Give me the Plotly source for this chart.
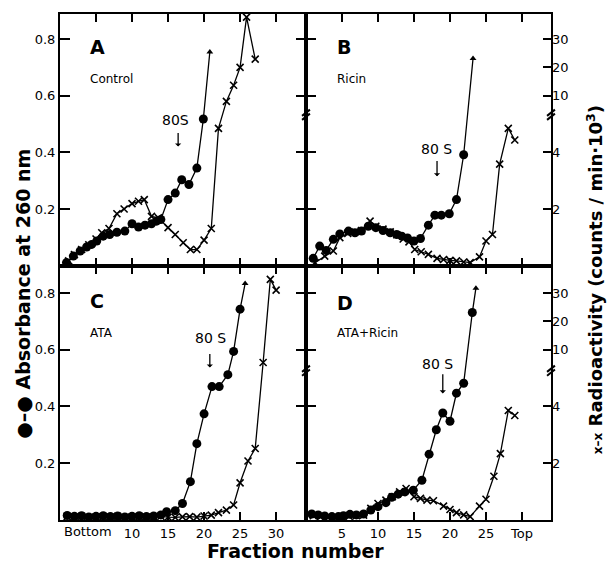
import plotly.graph_objects as go

# ---------------- data (fraction number, value) ----------------
# Absorbance at 260 nm (filled dots); last point = off-scale arrow tip
A_abs_x = [0.9, 1.85, 2.8, 3.7, 4.4, 5.1, 6.0, 6.9, 7.9, 9.0, 10.0, 10.9, 11.8, 12.7, 13.4, 14.0, 15.0, 16.0, 16.9, 17.9, 19.0, 19.9, 20.8]
A_abs_y = [0.012, 0.035, 0.053, 0.067, 0.076, 0.088, 0.105, 0.111, 0.119, 0.123, 0.149, 0.137, 0.144, 0.149, 0.158, 0.164, 0.234, 0.257, 0.304, 0.287, 0.345, 0.518, 0.754]
# Radioactivity (counts/min x 10^3) (crosses)
A_rad_x = [1.2, 2.0, 3.0, 4.0, 5.0, 5.8, 6.8, 7.9, 8.9, 10.0, 10.9, 11.7, 12.7, 13.65, 15.0, 16.0, 17.1, 18.1, 19.0, 20.0, 21.0, 22.0, 23.1, 24.1, 25.0, 25.9, 27.1]
A_rad_y = [0.18, 0.40, 0.58, 0.75, 0.95, 1.17, 1.32, 1.84, 2.01, 2.20, 2.28, 2.34, 1.75, 1.70, 1.35, 1.11, 0.82, 0.58, 0.58, 0.91, 1.32, 4.85, 8.0, 13.7, 20.0, 37.7, 22.9]

B_abs_x = [1.0, 1.9, 2.8, 3.8, 4.7, 5.9, 6.8, 7.7, 8.65, 9.7, 10.7, 11.7, 12.6, 13.3, 14.1, 15.0, 15.9, 17.0, 17.9, 18.8, 19.9, 20.9, 21.9, 23.2]
B_abs_y = [0.027, 0.07, 0.055, 0.094, 0.113, 0.123, 0.117, 0.123, 0.140, 0.135, 0.125, 0.117, 0.111, 0.105, 0.099, 0.088, 0.097, 0.144, 0.179, 0.179, 0.184, 0.234, 0.392, 0.731]
B_rad_x = [1.25, 2.6, 3.8, 4.7, 5.8, 6.8, 7.7, 8.9, 9.7, 10.7, 11.7, 12.6, 13.5, 14.3, 15.1, 16.0, 17.0, 18.2, 19.1, 20.0, 20.9, 21.9, 22.8, 24.1, 25.0, 25.9, 26.9, 28.1, 29.0]
B_rad_y = [0.12, 0.35, 0.53, 1.0, 1.15, 1.2, 1.25, 1.58, 1.4, 1.3, 1.2, 1.1, 0.95, 0.85, 0.58, 0.5, 0.41, 0.27, 0.23, 0.2, 0.18, 0.14, 0.12, 0.32, 0.88, 1.11, 3.59, 4.85, 4.44]

C_abs_x = [1, 2, 3, 4, 5, 6, 7, 8, 9, 10, 11, 12, 13, 14, 14.8, 16.0, 17.0, 18.1, 19.0, 20.0, 21.1, 22.1, 23.3, 24.1, 25.0, 25.7]
C_abs_y = [0.016, 0.013, 0.015, 0.011, 0.013, 0.015, 0.012, 0.014, 0.011, 0.013, 0.015, 0.012, 0.014, 0.018, 0.029, 0.033, 0.058, 0.135, 0.269, 0.374, 0.47, 0.47, 0.512, 0.594, 0.743, 0.833]
C_rad_x = [1, 2, 3, 4, 5, 6, 7, 8, 9, 10, 11, 12, 13, 14, 15, 16, 17, 18, 19, 20, 21, 22.0, 23.1, 24.1, 25.0, 26.1, 27.1, 28.2, 29.2, 30.0]
C_rad_y = [0.12, 0.10, 0.13, 0.09, 0.11, 0.12, 0.10, 0.13, 0.09, 0.11, 0.12, 0.10, 0.11, 0.13, 0.10, 0.09, 0.11, 0.12, 0.10, 0.14, 0.17, 0.26, 0.35, 0.53, 1.31, 2.08, 2.52, 5.5, 34.8, 31.0]

D_abs_x = [0.8, 1.7, 2.6, 3.6, 4.5, 5.2, 6.1, 7.0, 8.0, 9.0, 10.0, 11.1, 11.9, 12.8, 13.75, 14.9, 16.1, 17.1, 18.1, 19.0, 20.0, 20.9, 21.9, 23.1, 23.6]
D_abs_y = [0.021, 0.018, 0.014, 0.012, 0.012, 0.015, 0.02, 0.018, 0.021, 0.035, 0.047, 0.061, 0.08, 0.091, 0.099, 0.105, 0.14, 0.232, 0.318, 0.377, 0.348, 0.447, 0.482, 0.731, 0.817]
D_rad_x = [1, 2, 3, 4, 5, 6, 7, 8, 9.0, 10.0, 11.1, 12.0, 13.0, 13.9, 15.0, 15.9, 16.8, 17.7, 19.1, 20.0, 20.9, 21.9, 22.8, 24.1, 25.0, 26.1, 27.0, 28.1, 29.0]
D_rad_y = [0.15, 0.12, 0.10, 0.10, 0.10, 0.13, 0.15, 0.17, 0.41, 0.58, 0.70, 0.82, 0.99, 1.11, 0.82, 0.76, 0.70, 0.68, 0.49, 0.37, 0.26, 0.18, 0.12, 0.49, 0.73, 1.54, 2.34, 3.86, 3.68]

panel_letters = ["A", "B", "C", "D"]
panel_labels = ["Control", "Ricin", "ATA", "ATA+Ricin"]
abs_ticks = [0.2, 0.4, 0.6, 0.8]
abs_ticktext = ["0.2", "0.4", "0.6", "0.8"]
rad_ticks = [2, 4, 10, 20, 30]
frac_ticks = [5, 10, 15, 20, 25, 30]
frac_text_C = ["", "10", "15", "20", "25", "30"]
frac_text_D = ["5", "10", "15", "20", "25", "Top"]

# broken radioactivity scale (linear below the break, compressed above)
BREAK = 5.3
def T(v):
    return 0.1 * v if v <= BREAK else 0.5 + 0.01 * v

FONT = "DejaVu Sans"
fig = go.Figure()

def add_panel(ax, ay, ay_rad, xa, ya, xr, yr):
    n = len(xa)
    fig.add_trace(go.Scatter(
        x=xa, y=ya, xaxis=ax, yaxis=ay, mode="lines+markers",
        line=dict(color="black", width=1.3),
        marker=dict(color="black", opacity=1, size=[9] * (n - 1) + [6],
                    symbol=["circle"] * (n - 1) + ["triangle-up"],
                    line=dict(width=0)),
        showlegend=False))
    fig.add_trace(go.Scatter(
        x=xr, y=[T(v) for v in yr], xaxis=ax, yaxis=ay_rad, mode="lines+markers",
        line=dict(color="black", width=1.3),
        marker=dict(color="black", opacity=1, size=7, symbol="x-thin-open",
                    line=dict(color="black", width=1.6)),
        showlegend=False))

add_panel("x", "y", "y", A_abs_x, A_abs_y, A_rad_x, A_rad_y)
add_panel("x2", "y2", "y5", B_abs_x, B_abs_y, B_rad_x, B_rad_y)
add_panel("x3", "y3", "y3", C_abs_x, C_abs_y, C_rad_x, C_rad_y)
add_panel("x4", "y4", "y6", D_abs_x, D_abs_y, D_rad_x, D_rad_y)

XS = 0.501
YS = 0.502
TOP_R = [0, 0.888]
BOT_R = [0, 0.895]

base_ax = dict(showline=True, linecolor="black", linewidth=2, ticks="inside",
               ticklen=8, tickwidth=2, tickcolor="black", showgrid=False,
               zeroline=False, tickfont=dict(family=FONT, size=13, color="black"))

def xax(dom, anchor, rng, text=None):
    d = dict(base_ax, domain=dom, anchor=anchor, range=rng, mirror="ticks",
             tickvals=frac_ticks)
    if text is None:
        d["showticklabels"] = False
    else:
        d["ticktext"] = text
    return d

def yax(dom, anchor, rng, labels):
    d = dict(base_ax, domain=dom, anchor=anchor, range=rng, tickvals=abs_ticks,
             ticklen=10)
    if labels:
        d.update(ticktext=abs_ticktext, mirror="ticks")
    else:
        d.update(showticklabels=False, mirror=True)
    return d

def yrad(over, anchor, rng):
    return dict(base_ax, overlaying=over, anchor=anchor, side="right", range=rng,
                tickvals=[T(v) for v in rad_ticks], ticktext=[str(v) for v in rad_ticks],
                showline=False)

fig.update_layout(
    width=611, height=562, margin=dict(l=60, r=60, t=12, b=42),
    paper_bgcolor="white", plot_bgcolor="white",
    font=dict(family=FONT, color="black"),
    xaxis=xax([0, XS], "y", [0, 34.15]),
    xaxis2=xax([XS, 1], "y2", [0, 34.03]),
    xaxis3=xax([0, XS], "y3", [0, 34.15], frac_text_C),
    xaxis4=xax([XS, 1], "y4", [0, 34.03], frac_text_D),
    yaxis=yax([YS, 1], "x", TOP_R, True),
    yaxis2=yax([YS, 1], "x2", TOP_R, False),
    yaxis3=yax([0, YS], "x3", BOT_R, True),
    yaxis4=yax([0, YS], "x4", BOT_R, False),
    yaxis5=yrad("y2", "x2", TOP_R),
    yaxis6=yrad("y4", "x4", BOT_R),
)

ann = []
panels = [("x", "y", 3.9, 0.77, 3.9, 0.66, "80S", 16.1, 0.516, 16.4, 0.474, 0.421),
          ("x2", "y2", 4.0, 0.77, 4.0, 0.66, "80 S", 18.1, 0.414, 18.2, 0.375, 0.316),
          ("x3", "y3", 3.9, 0.772, 3.9, 0.66, "80 S", 20.9, 0.643, 20.8, 0.59, 0.537),
          ("x4", "y4", 4.0, 0.765, 4.0, 0.66, "80 S", 18.2, 0.551, 19.0, 0.519, 0.446)]
for i, (xr, yr, lx, ly, cx, cy, s80, sx, sy, arx, ay0, ay1) in enumerate(panels):
    ann.append(dict(xref=xr, yref=yr, x=lx, y=ly, text="<b>%s</b>" % panel_letters[i],
                    showarrow=False, xanchor="left", yanchor="middle",
                    font=dict(family=FONT, size=19)))
    ann.append(dict(xref=xr, yref=yr, x=cx, y=cy, text=panel_labels[i],
                    showarrow=False, xanchor="left", yanchor="middle",
                    font=dict(family=FONT, size=12)))
    ann.append(dict(xref=xr, yref=yr, x=sx, y=sy, text=s80, showarrow=False,
                    xanchor="center", yanchor="middle", font=dict(family=FONT, size=14)))
    ann.append(dict(xref=xr, yref=yr, x=arx, y=ay1, ax=arx, ay=ay0, axref=xr, ayref=yr,
                    text="", showarrow=True, arrowhead=1, arrowsize=0.8, arrowwidth=1.3,
                    arrowcolor="black"))

ann.append(dict(xref="paper", yref="paper", x=0.004, y=-0.0236, text="Bottom",
                showarrow=False, xanchor="left", yanchor="middle",
                font=dict(family=FONT, size=13)))
ann.append(dict(xref="paper", yref="paper", x=-0.0754, y=0.447, textangle=-90,
                text="<b>●–● Absorbance at 260 nm</b>", showarrow=False,
                xanchor="center", yanchor="middle", font=dict(family=FONT, size=19)))
ann.append(dict(xref="paper", yref="paper", x=1.0896, y=0.476, textangle=-90,
                text="<b><span style='font-size:12px'>x–x</span> Radioactivity (counts / min·10<sup>3</sup>)</b>",
                showarrow=False, xanchor="center", yanchor="middle",
                font=dict(family=FONT, size=18)))
ann.append(dict(xref="paper", yref="paper", x=0.48, y=-0.061, text="<b>Fraction number</b>",
                showarrow=False, xanchor="center", yanchor="middle",
                font=dict(family=FONT, size=19)))
fig.update_layout(annotations=ann)

# axis break marks "//"
shapes = []
dx, dy = 0.008, 0.011
for yref, lvl in (("y", 0.533), ("y3", 0.526)):
    for xp in (XS, 1.0):
        for off in (-0.007, 0.007):
            shapes.append(dict(type="line", xref="paper", yref=yref,
                               x0=xp - dx, y0=lvl + off - dy, x1=xp + dx, y1=lvl + off + dy,
                               line=dict(color="black", width=2)))
fig.update_layout(shapes=shapes)

fig.write_html("out.html", config={"displayModeBar": False},
               post_script="document.body.style.margin='0';document.body.style.overflow='hidden';")
